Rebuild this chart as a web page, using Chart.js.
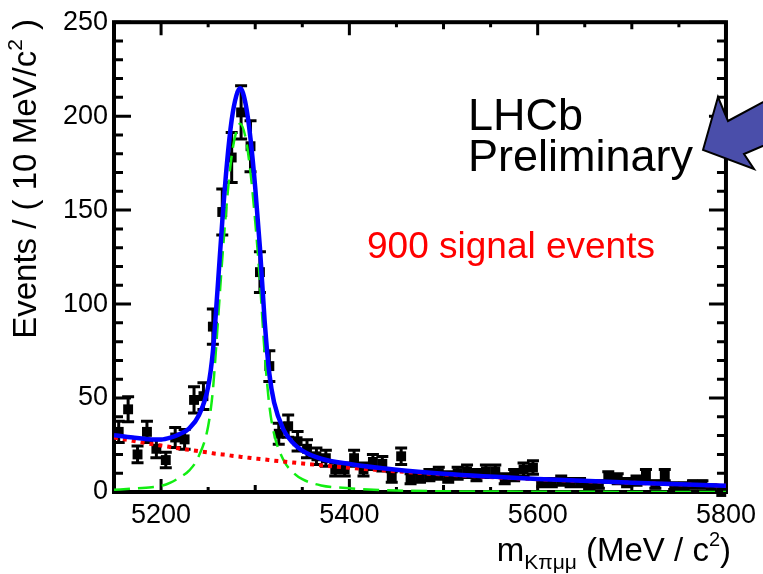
<!DOCTYPE html>
<html>
<head>
<meta charset="utf-8">
<script src="https://cdn.jsdelivr.net/npm/chart.js@4.4.1/dist/chart.umd.min.js"></script>
<style>
  html, body { margin: 0; padding: 0; background: #fff; }
  #wrap { width: 763px; height: 574px; }
</style>
</head>
<body>
<div id="wrap"><canvas id="massChart"></canvas></div>
<script>
// bin centres (10 MeV bins) and event counts
var massBins = [5155, 5165, 5175, 5185, 5195, 5205, 5215, 5225, 5235, 5245,
                5255, 5265, 5275, 5285, 5295, 5305, 5315, 5325, 5335, 5345,
                5355, 5365, 5375, 5385, 5395, 5405, 5415, 5425, 5435, 5445,
                5455, 5465, 5475, 5485, 5495, 5505, 5515, 5525, 5535, 5545,
                5555, 5565, 5575, 5585, 5595, 5605, 5615, 5625, 5635, 5645,
                5655, 5665, 5675, 5685, 5695, 5705, 5715, 5725, 5735, 5745,
                5755, 5765, 5775, 5785, 5795];
var eventCounts = [32, 44, 20, 32, 23, 17, 29, 28, 49, 51,
                   88, 149, 178, 202, 184, 117, 67, 31, 35, 27,
                   23, 19, 18, 12, 12, 18, 12, 16, 15, 8,
                   19, 7, 8, 9, 10, 8, 10, 11, 9, 11,
                   11, 7, 9, 12, 13, 5, 5, 6, 5, 5,
                   3, 4, 8, 7, 5, 6, 9, 4, 9, 3,
                   3, 4, 4, 2, 0];

// fit curves sampled by eye
var curveMass = [5150, 5170, 5190, 5200, 5210, 5220, 5230, 5240, 5250, 5255,
                 5260, 5265, 5270, 5275, 5280, 5284, 5290, 5295, 5300, 5305,
                 5310, 5315, 5320, 5330, 5340, 5350, 5370, 5400, 5450, 5500,
                 5600, 5700, 5800];
var totalFit = [30.2, 29.0, 28.0, 27.9, 28.9, 30.9, 33.9, 40.7, 56, 74.6,
                108, 144, 175, 198, 211, 214.8, 206, 188, 162, 130,
                91, 63, 47.7, 33.2, 26.2, 22, 17.7, 14.9, 11.8, 9.7,
                6.95, 4.95, 3.3];
var signalFit = [1.2, 1.8, 2.5, 3.2, 5.0, 7.8, 11.5, 19, 35, 54,
                 88, 124, 155, 179, 192, 196, 188, 170, 144, 112,
                 74, 46, 31, 17, 10.5, 6.8, 3.5, 2.0, 0.8, 0.4,
                 0.15, 0.05, 0.02];
var backgroundFit = [29.0, 27.2, 25.5, 24.7, 23.9, 23.1, 22.4, 21.7, 21.0, 20.6,
                     20.3, 20.0, 19.7, 19.3, 19.0, 18.8, 18.4, 18.1, 17.8, 17.6,
                     17.3, 17.0, 16.7, 16.2, 15.7, 15.2, 14.2, 12.9, 11.0, 9.3,
                     6.8, 4.9, 3.3];

var xTickValues = [5200, 5400, 5600, 5800];
var yTickValues = [0, 50, 100, 150, 200, 250];

var FONT = '"Liberation Sans", Arial, Helvetica, sans-serif';

function toPoints(xs, ys) {
    return xs.map((x, i) => ({ x: x, y: ys[i] }));
}

// draws a row of text pieces (for sub/superscripts), ending at x = 0
function drawPieces(ctx, pieces) {
    let total = 0;
    pieces.forEach(p => {
        ctx.font = p.size + 'px ' + FONT;
        p.w = ctx.measureText(p.t).width;
        total += p.w;
    });
    let x = -total;
    pieces.forEach(p => {
        ctx.font = p.size + 'px ' + FONT;
        ctx.fillText(p.t, x, p.dy || 0);
        x += p.w;
    });
}

const rootStyle = {
    id: 'rootStyle',
    beforeDatasetsDraw(chart) {
        const ctx = chart.ctx;
        const xs = chart.scales.x, ys = chart.scales.y;
        const a = chart.chartArea;
        ctx.save();
        ctx.strokeStyle = '#000';

        // ticks on all four sides
        ctx.lineWidth = 3;
        ctx.beginPath();
        for (let v = 0; v <= 250; v += 10) {
            const y = ys.getPixelForValue(v);
            const len = v % 50 === 0 ? 17 : 9;
            ctx.moveTo(a.left, y); ctx.lineTo(a.left + len, y);
            ctx.moveTo(a.right, y); ctx.lineTo(a.right - len, y);
        }
        for (let v = 5150; v <= 5800; v += 50) {
            const x = xs.getPixelForValue(v);
            const len = v % 200 === 0 ? 13 : (v % 100 === 0 ? 7 : 5);
            ctx.moveTo(x, a.bottom); ctx.lineTo(x, a.bottom - len);
            ctx.moveTo(x, a.top); ctx.lineTo(x, a.top + len);
        }
        ctx.stroke();

        // frame
        ctx.lineWidth = 4;
        ctx.strokeRect(a.left, a.top, a.right - a.left, a.bottom - a.top);

        // Poisson error bars
        ctx.lineWidth = 3;
        ctx.beginPath();
        eventCounts.forEach((n, i) => {
            const err = Math.sqrt(n);
            if (err === 0) return;
            const x = xs.getPixelForValue(massBins[i]);
            const yHi = ys.getPixelForValue(n + err);
            const yLo = ys.getPixelForValue(Math.max(n - err, 0));
            ctx.moveTo(x, yHi); ctx.lineTo(x, yLo);
            ctx.moveTo(x - 6, yHi); ctx.lineTo(x + 6, yHi);
            ctx.moveTo(x - 6, yLo); ctx.lineTo(x + 6, yLo);
        });
        ctx.stroke();
        ctx.restore();
    },
    afterDraw(chart) {
        const ctx = chart.ctx;
        ctx.save();
        ctx.fillStyle = '#000';
        ctx.textAlign = 'left';
        ctx.textBaseline = 'alphabetic';

        // y axis title, rotated, aligned to the top
        ctx.save();
        ctx.translate(36, 19);
        ctx.rotate(-Math.PI / 2);
        drawPieces(ctx, [
            { t: 'Events / ( 10 MeV/c', size: 33 },
            { t: '2', size: 21, dy: -14 },
            { t: ' )', size: 33 }
        ]);
        ctx.restore();

        // x axis title, aligned to the right
        ctx.save();
        ctx.translate(731, 561);
        drawPieces(ctx, [
            { t: 'm', size: 33 },
            { t: 'K\u03c0\u03bc\u03bc', size: 21, dy: 8 },
            { t: ' (MeV / c', size: 33 },
            { t: '2', size: 20, dy: -15 },
            { t: ')', size: 33 }
        ]);
        ctx.restore();

        // labels
        ctx.font = '45px ' + FONT;
        ctx.fillText('LHCb', 468, 130);
        ctx.fillText('Preliminary', 468, 171);
        ctx.fillStyle = '#ff0000';
        ctx.font = '37px ' + FONT;
        ctx.fillText('900 signal events', 367, 258);

        // pointer arrow
        ctx.beginPath();
        ctx.moveTo(703, 150);
        ctx.lineTo(718, 97);
        ctx.lineTo(728, 121);
        ctx.lineTo(800, 82);
        ctx.lineTo(800, 130);
        ctx.lineTo(744, 154);
        ctx.lineTo(754, 169);
        ctx.closePath();
        ctx.fillStyle = '#4a4eaa';
        ctx.fill();
        ctx.lineWidth = 2;
        ctx.strokeStyle = '#000';
        ctx.stroke();
        ctx.restore();
    }
};

new Chart('massChart', {
    type: 'scatter',
    data: {
        datasets: [{
            label: 'Total fit',
            data: toPoints(curveMass, totalFit),
            showLine: true,
            borderColor: '#0000ff',
            borderWidth: 4.5,
            pointRadius: 0,
            cubicInterpolationMode: 'monotone'
        }, {
            label: 'Background',
            data: toPoints(curveMass, backgroundFit),
            showLine: true,
            borderColor: '#ff0000',
            borderWidth: 4,
            borderDash: [4, 5],
            pointRadius: 0,
            cubicInterpolationMode: 'monotone'
        }, {
            label: 'Signal',
            data: toPoints(curveMass, signalFit),
            showLine: true,
            borderColor: '#11ee11',
            borderWidth: 2.5,
            borderDash: [16, 8],
            pointRadius: 0,
            cubicInterpolationMode: 'monotone'
        }, {
            label: 'Data',
            data: toPoints(massBins, eventCounts),
            showLine: false,
            pointStyle: 'rect',
            pointRadius: 7,
            backgroundColor: '#000',
            borderColor: '#000',
            borderWidth: 0,
            clip: false
        }]
    },
    options: {
        responsive: true,
        maintainAspectRatio: false,
        animation: false,
        layout: { padding: { left: 0, right: 35, top: 19, bottom: 0 } },
        plugins: {
            legend: { display: false },
            tooltip: { enabled: false }
        },
        scales: {
            x: {
                type: 'linear',
                min: 5150,
                max: 5800,
                grid: { display: false, drawTicks: false },
                border: { display: false },
                afterBuildTicks: axis => { axis.ticks = xTickValues.map(v => ({ value: v })); },
                afterFit: axis => { axis.height = 82; },
                ticks: {
                    autoSkip: false,
                    maxRotation: 0,
                    padding: 7,
                    color: '#000',
                    font: { family: FONT, size: 27 },
                    callback: v => String(v)
                }
            },
            y: {
                min: 0,
                max: 250,
                grid: { display: false, drawTicks: false },
                border: { display: false },
                afterBuildTicks: axis => { axis.ticks = yTickValues.map(v => ({ value: v })); },
                afterFit: axis => { axis.width = 114; },
                ticks: {
                    padding: 6,
                    color: '#000',
                    font: { family: FONT, size: 27 },
                    callback: v => String(v)
                }
            }
        }
    },
    plugins: [rootStyle]
});
</script>
</body>
</html>
